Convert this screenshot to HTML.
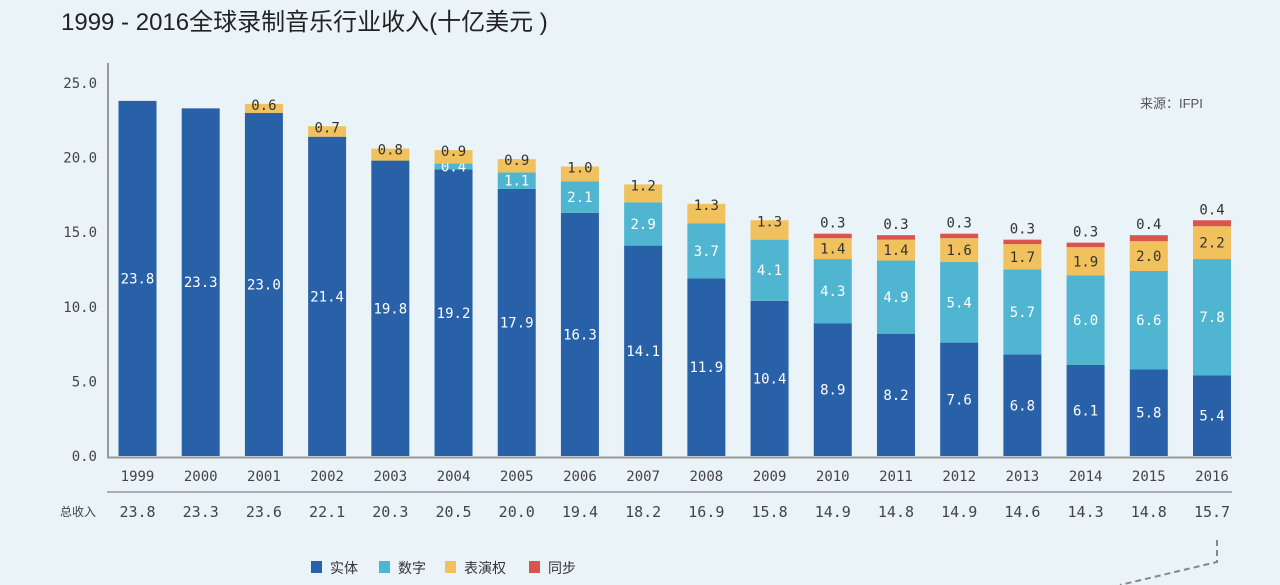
<!DOCTYPE html>
<html><head><meta charset="utf-8">
<style>
html,body{margin:0;padding:0;}
body{width:1280px;height:585px;overflow:hidden;background:#eaf3f8;font-family:"Liberation Sans","Noto Sans CJK SC",sans-serif;}
svg{position:absolute;left:0;top:0;}
</style></head>
<body>
<svg id="chart" width="1280" height="585">
<rect width="1280" height="585" fill="#eaf3f8"/>
<text x="61" y="30" font-size="24" fill="#222" font-family="Liberation Sans, Noto Sans CJK SC, sans-serif">1999 - 2016全球录制音乐行业收入(十亿美元 )</text>
<text x="1140" y="108" font-size="13" fill="#555" font-family="Liberation Sans, Noto Sans CJK SC, sans-serif">来源：IFPI</text>
<text x="60" y="516" font-size="12" fill="#444" font-family="Noto Sans CJK SC, sans-serif">总收入</text>
<g id="legend"></g>
<path d="M1217 540 L1217 562 L1120 585" stroke="#888" stroke-width="2" stroke-dasharray="6,4" fill="none"/>
</svg>
<script>
const years = ["1999","2000","2001","2002","2003","2004","2005","2006","2007","2008","2009","2010","2011","2012","2013","2014","2015","2016"];
const physical = [23.8,23.3,23.0,21.4,19.8,19.2,17.9,16.3,14.1,11.9,10.4,8.9,8.2,7.6,6.8,6.1,5.8,5.4];
const digital = [0,0,0,0,0,0.4,1.1,2.1,2.9,3.7,4.1,4.3,4.9,5.4,5.7,6.0,6.6,7.8];
const performance = [0,0,0.6,0.7,0.8,0.9,0.9,1.0,1.2,1.3,1.3,1.4,1.4,1.6,1.7,1.9,2.0,2.2];
const sync = [0,0,0,0,0,0,0,0,0,0,0,0.3,0.3,0.3,0.3,0.3,0.4,0.4];
const totals = ["23.8","23.3","23.6","22.1","20.3","20.5","20.0","19.4","18.2","16.9","15.8","14.9","14.8","14.9","14.6","14.3","14.8","15.7"];
const yTicks = [0,5,10,15,20,25];
const seriesNames = ["实体","数字","表演权","同步"];

const NS="http://www.w3.org/2000/svg";
const svg=document.getElementById('chart');
const y0=456, pxPer=(456-83)/25;
const yS=v=>y0-v*pxPer;
const x0=137.5, step=(1212-137.5)/17, bw=38;
const xS=i=>x0+i*step;
const colors=["#2961a9","#4fb5d0","#f0c15c","#d9534f"];
const mono="DejaVu Sans Mono, Liberation Mono, monospace";
function mk(tag,attrs,parent){const e=document.createElementNS(NS,tag);for(const k in attrs)e.setAttribute(k,attrs[k]);(parent||svg).appendChild(e);return e;}

const ax=mk('line',{x1:108,y1:63,x2:108,y2:457.5,stroke:'#999','stroke-width':2});


const bx=mk('line',{x1:107,y1:457.5,x2:1232,y2:457.5,stroke:'#999','stroke-width':2});


const sep=mk('line',{x1:107,y1:492,x2:1232,y2:492,stroke:'#aab','stroke-width':2});



yTicks.forEach(t=>{
  const e=mk('text',{x:97,y:yS(t)+5,'text-anchor':'end','font-size':14,fill:'#444','font-family':mono});
  e.textContent=t.toFixed(1);
  
  
});

const series=[physical,digital,performance,sync];
years.forEach((yr,i)=>{
  const cx=xS(i);
  let base=0;
  series.forEach((arr,s)=>{
    const v=arr[i]; if(!v) return;
    const r=mk('rect',{x:cx-bw/2,y:yS(base+v),width:bw,height:v*pxPer,fill:colors[s]});
    
    
    let ly=yS(base+v/2)+5, fill='#fff';
    if(s===2){fill='#333'; if(v<1.4) ly=yS(base+v)+6;}
    if(s===3){fill='#333'; ly=yS(base+v)-6;}
    const t=mk('text',{x:cx,y:ly,'text-anchor':'middle','font-size':14,fill:fill,'font-family':mono});
    t.textContent=v.toFixed(1);
    
    
    base+=v;
  });
  const yl=mk('text',{x:cx,y:481,'text-anchor':'middle','font-size':14,fill:'#444','font-family':mono});
  yl.textContent=yr;
  
  
  const tl=mk('text',{x:cx,y:517,'text-anchor':'middle','font-size':15,fill:'#444','font-family':mono});
  tl.textContent=totals[i];
  
  
});

const lg=document.getElementById('legend');
const lx=[311,379,445,529];
seriesNames.forEach((n,s)=>{
  const r=mk('rect',{x:lx[s],y:561,width:11,height:12,fill:colors[s]},lg);
  
  
  const t=mk('text',{x:lx[s]+19,y:573,'font-size':14,fill:'#333','font-family':'Noto Sans CJK SC, sans-serif'},lg);
  t.textContent=n;
  
  
});
</script>
</body></html>
